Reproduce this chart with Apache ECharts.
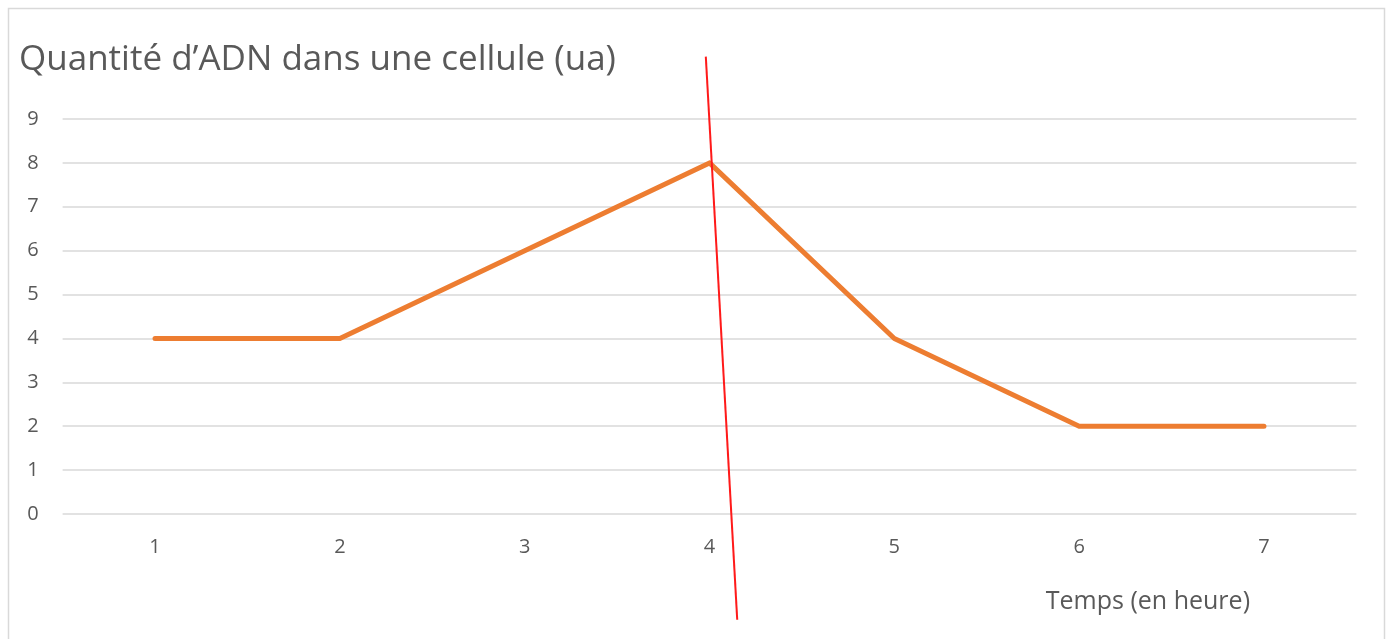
<!DOCTYPE html>
<html>
<head>
<meta charset="utf-8">
<script src="https://cdn.jsdelivr.net/npm/echarts@6/dist/echarts.min.js"></script>
<style>
html,body{margin:0;padding:0;background:#fff;}
#chart{width:1387px;height:639px;}
</style>
</head>
<body>
<div id="chart"></div>
<script>
const categories = ['1','2','3','4','5','6','7'];
const dnaValues = [4, 4, 6, 8, 4, 2, 2];
const yTicks = [0,1,2,3,4,5,6,7,8,9];
// hand-drawn red line, in data units (x on a 0.5..7.5 scale, y in ua)
const redLineX = [3.98, 4.15];
const redLineY = [10.42, -2.41];

const chart = echarts.init(document.getElementById('chart'), null, {renderer:'canvas'});
const font = '"Open Sans", "Noto Sans", sans-serif';
chart.setOption({
  animation:false,
  backgroundColor:'#fff',
  title:{
    text:'Quantité d’ADN dans une cellule (ua)',
    left:14, top:38,
    textStyle:{fontFamily:font, fontSize:35, fontWeight:'normal', color:'#595959'}
  },
  grid:{left:62.6, right:30.6, top:119, bottom:125},
  xAxis:[{
    type:'category', data:categories, boundaryGap:true,
    axisLine:{show:false}, axisTick:{show:false},
    axisLabel:{color:'#595959', fontFamily:font, fontSize:20, margin:23},
    splitLine:{show:false}
  },{
    type:'value', min:0.5, max:7.5, show:false
  }],
  yAxis:{
    type:'value', min:yTicks[0], max:yTicks[yTicks.length-1], interval:1,
    axisLine:{show:false}, axisTick:{show:false},
    axisLabel:{color:'#595959', fontFamily:font, fontSize:20, margin:24},
    splitLine:{lineStyle:{color:'#d9d9d9', width:1.5}}
  },
  graphic:[{
    type:'rect', shape:{x:8.5,y:8.5,width:1376,height:640},
    style:{fill:'none', stroke:'#d9d9d9', lineWidth:1.5}, silent:true
  },{
    type:'text', right:137, bottom:25,
    style:{text:'Temps (en heure)', fill:'#595959', font:'25px "Open Sans", sans-serif'}
  }],
  series:[{
    type:'line', data:dnaValues, xAxisIndex:0,
    symbol:'none', lineStyle:{color:'#ED7D31', width:5, cap:'round', join:'round'}
  },{
    type:'line', xAxisIndex:1, clip:false, symbol:'none',
    data:redLineX.map((x,i)=>[x, redLineY[i]]),
    lineStyle:{color:'#ff1a1a', width:2}
  }]
});
</script>
</body>
</html>
